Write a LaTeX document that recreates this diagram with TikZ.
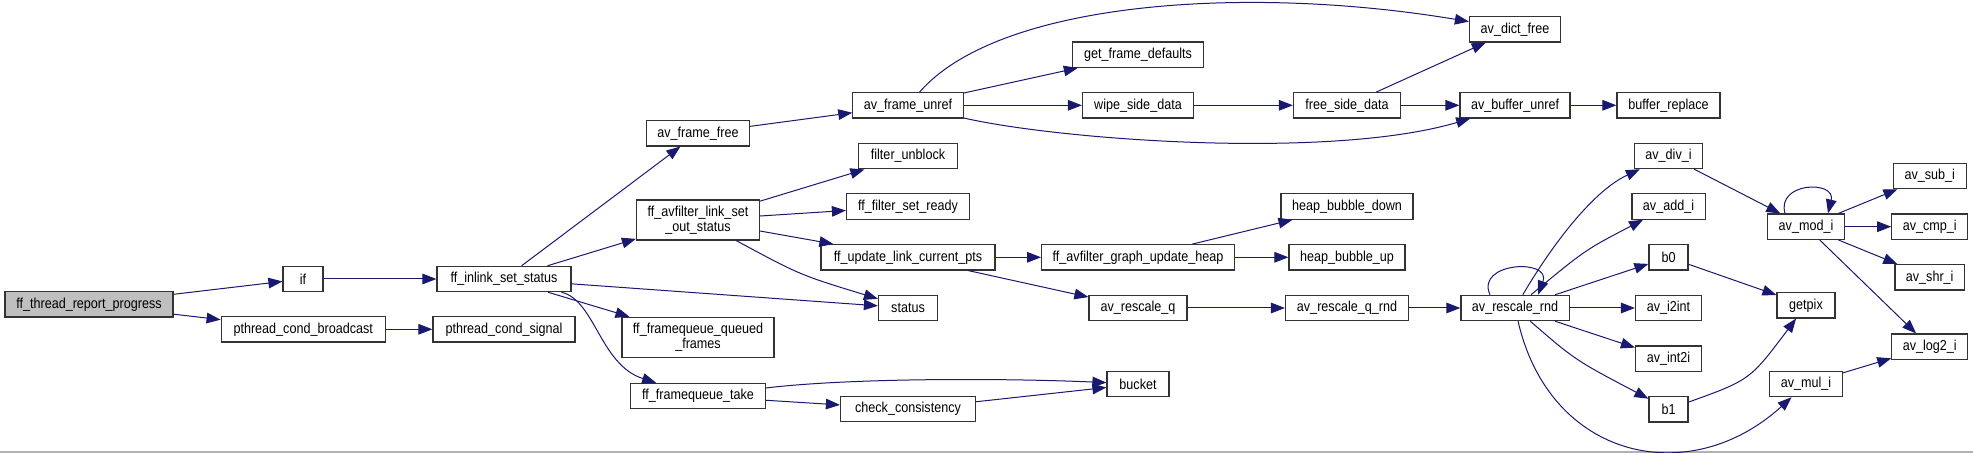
\documentclass[tikz,border=0pt]{standalone}
\usepackage{fontspec}
\setmainfont[FakeStretch=0.875]{Liberation Sans}
\usepackage{tikz}
\usetikzlibrary{arrows.meta, calc}
\definecolor{callblue}{HTML}{191970}
\definecolor{rootgray}{HTML}{BFBFBF}
\definecolor{boxline}{HTML}{333333}
\newcommand{\fnfont}{\fontsize{7.2}{7.5}\selectfont}
\tikzset{
  % Function boxes
  func/.style={
    rectangle, draw=boxline, fill=white, line width=0.6pt,
    minimum width=#1, minimum height=12.65pt, inner xsep=5.5pt, inner ysep=1pt,
    font=\fnfont, text=black, align=center,
  },
  func/.default={19.5pt},
  % The documented function
  rootfunc/.style={func=#1, fill=rootgray},
  % Boxes with a wrapped name
  tallfunc/.style={func=#1, minimum height=20pt},
  % Calls
  call/.style={-{Triangle[length=7pt, width=5.3pt]}, line width=0.5pt, draw=callblue},
}

\begin{document}
\begin{tikzpicture}[x=0.5pt, y=-0.5pt]

  \path[use as bounding box, fill=white] (0,0) rectangle (1973,453);
  \draw[gray!60, line width=0.6pt] (0,452) -- (1973,452);

  % Caller and first level
  \node[rootfunc=84pt] (root) at (89,304.3) {ff\_thread\_report\_progress};
  \node[func=20pt] (ifcall) at (303,279) {if};
  \node[func=82pt] (bcast) at (303.2,329.3) {pthread\_cond\_broadcast};
  \node[func=67pt] (inlink) at (504,279) {ff\_inlink\_set\_status};
  \node[func=71pt] (signal) at (504,329.3) {pthread\_cond\_signal};

  % Called from ff_inlink_set_status
  \node[func=51pt] (framefree) at (698,133.3) {av\_frame\_free};
  \node[tallfunc=61.5pt] (setout) at (698,220) {ff\_avfilter\_link\_set\\\_out\_status};
  \node[tallfunc=75.5pt] (queued) at (698,337.3) {ff\_framequeue\_queued\\\_frames};
  \node[func=67.5pt] (take) at (698,396) {ff\_framequeue\_take};

  % Next column
  \node[func=54pt] (unref) at (908,105.3) {av\_frame\_unref};
  \node[func=49.5pt] (unblock) at (908,156.2) {filter\_unblock};
  \node[func=61.5pt] (ready) at (908,206.5) {ff\_filter\_set\_ready};
  \node[func=87pt] (curpts) at (908,257.3) {ff\_update\_link\_current\_pts};
  \node[func=29.5pt] (status) at (908,308) {status};
  \node[func=67.5pt] (consist) at (908,409.2) {check\_consistency};

  \node[func=65.5pt] (defaults) at (1138,54.7) {get\_frame\_defaults};
  \node[func=55.5pt] (wipe) at (1138,105.3) {wipe\_side\_data};
  \node[func=95.5pt] (graphheap) at (1138,257.3) {ff\_avfilter\_graph\_update\_heap};
  \node[func=49pt] (rescaleq) at (1138,308) {av\_rescale\_q};
  \node[func=31pt] (bucket) at (1138,384) {bucket};

  \node[func=53.5pt] (freeside) at (1347,105.3) {free\_side\_data};
  \node[func=66pt] (bubbledown) at (1347,206.5) {heap\_bubble\_down};
  \node[func=58pt] (bubbleup) at (1347,257.3) {heap\_bubble\_up};
  \node[func=61.5pt] (qrnd) at (1347,308) {av\_rescale\_q\_rnd};

  \node[func=45.5pt] (dictfree) at (1515,29.3) {av\_dict\_free};
  \node[func=53.5pt] (bufunref) at (1515,105.3) {av\_buffer\_unref};
  \node[func=54pt] (rnd) at (1515,308) {av\_rescale\_rnd};

  % Integer helpers
  \node[func=51.5pt] (bufreplace) at (1668.5,105.3) {buffer\_replace};
  \node[func=33.5pt] (divi) at (1668.5,156) {av\_div\_i};
  \node[func=36pt] (addi) at (1668.5,206.5) {av\_add\_i};
  \node[func] (bzero) at (1668.5,257.3) {b0};
  \node[func=33pt] (itoint) at (1668.5,308) {av\_i2int};
  \node[func=33pt] (inttoi) at (1668.5,358.7) {av\_int2i};
  \node[func] (bone) at (1668.5,409.3) {b1};

  \node[func=38pt] (modi) at (1806,226.7) {av\_mod\_i};
  \node[func=29pt] (getpix) at (1806,305.3) {getpix};
  \node[func=36pt] (muli) at (1806,384) {av\_mul\_i};

  \node[func=36.5pt] (subi) at (1929.7,176) {av\_sub\_i};
  \node[func=38pt] (cmpi) at (1929.8,226.7) {av\_cmp\_i};
  \node[func=34.5pt] (shri) at (1929.7,277.3) {av\_shr\_i};
  \node[func=37.5pt] (logi) at (1929.8,346.7) {av\_log2\_i};

  % Calls
  \draw[call] (root) -- (ifcall);
  \draw[call] (root) -- (bcast);
  \draw[call] (ifcall) -- (inlink);
  \draw[call] (bcast) -- (signal);

  \draw[call] (inlink) -- (framefree);
  \draw[call] (inlink) -- (setout);
  \draw[call] (inlink) -- (status);
  \draw[call] (inlink) -- (queued);
  \draw[call] (inlink) .. controls (595,300) and (600,365) .. (take);

  \draw[call] (framefree) -- (unref);
  \draw[call] (setout) -- (unblock);
  \draw[call] (setout) -- (ready);
  \draw[call] (setout) -- (curpts);
  \draw[call] (setout) .. controls (800,275) .. (status);
  \draw[call] (take) .. controls (850,378) and (1000,378) .. (bucket);
  \draw[call] (take) -- (consist);
  \draw[call] (consist) -- (bucket);

  \draw[call] (unref) .. controls (1000,0) and (1250,-15) .. (dictfree);
  \draw[call] (unref) -- (defaults);
  \draw[call] (unref) -- (wipe);
  \draw[call] (unref) .. controls (1060,140) and (1330,160) .. (bufunref);
  \draw[call] (wipe) -- (freeside);
  \draw[call] (freeside) -- (dictfree);
  \draw[call] (freeside) -- (bufunref);
  \draw[call] (bufunref) -- (bufreplace);

  \draw[call] (curpts) -- (graphheap);
  \draw[call] (curpts) -- (rescaleq);
  \draw[call] (graphheap) -- (bubbledown);
  \draw[call] (graphheap) -- (bubbleup);
  \draw[call] (rescaleq) -- (qrnd);
  \draw[call] (qrnd) -- (rnd);

  % av_rescale_rnd and what it calls
  \draw[call] ($(rnd.north)+(-25,0)$) .. controls (1475,262) and (1552,258) .. ($(rnd.north)+(23,0)$);
  \draw[call] (rnd) .. controls (1555,240) and (1595,190) .. (divi);
  \draw[call] (rnd) .. controls (1585,250) .. (addi);
  \draw[call] (rnd) -- (bzero);
  \draw[call] (rnd) -- (itoint);
  \draw[call] (rnd) -- (inttoi);
  \draw[call] (rnd) .. controls (1575,360) .. (bone);
  \draw[call] (rnd) .. controls (1550,460) and (1690,490) .. (muli);

  \draw[call] (divi) -- (modi);
  \draw[call] ($(modi.north)+(-21,0)$) .. controls (1776,182) and (1836,180) .. ($(modi.north)+(22,0)$);
  \draw[call] (modi) -- (subi);
  \draw[call] (modi) -- (cmpi);
  \draw[call] (modi) -- (shri);
  \draw[call] (modi) -- (logi);
  \draw[call] (bzero) -- (getpix);
  \draw[call] (bone) .. controls (1750,380) .. (getpix);
  \draw[call] (muli) -- (logi);

\end{tikzpicture}
\end{document}
